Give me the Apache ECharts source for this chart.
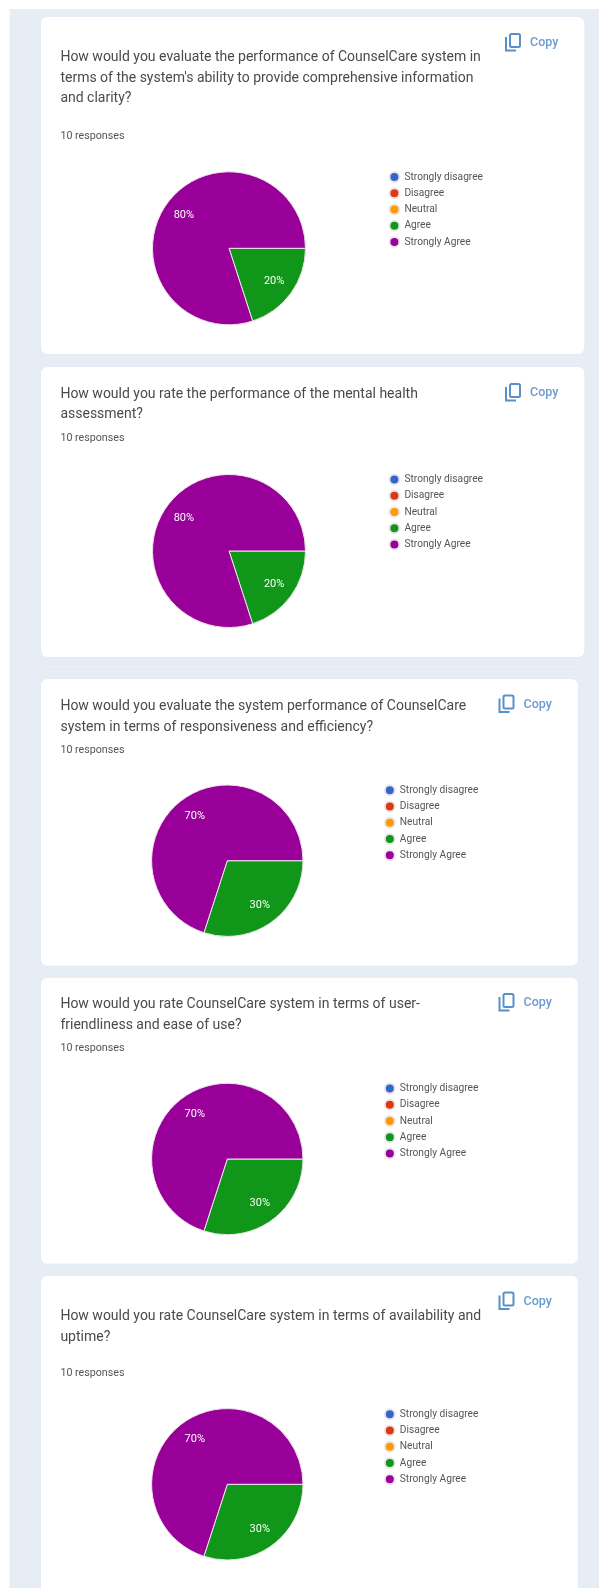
<!DOCTYPE html>
<html>
<head>
<meta charset="utf-8">
<title>CounselCare survey results</title>
<style>html,body{margin:0;padding:0;background:#fff}#chart{width:599px;height:1588px}</style>
<script src="https://cdn.jsdelivr.net/npm/echarts@6/dist/echarts.min.js"></script>
</head>
<body>
<div id="chart"></div>
<script>
// Survey answers
const categories = ['Strongly disagree', 'Disagree', 'Neutral', 'Agree', 'Strongly Agree'];
const questions = [
  'How would you evaluate the performance of CounselCare system in\nterms of the system\'s ability to provide comprehensive information\nand clarity?',
  'How would you rate the performance of the mental health\nassessment?',
  'How would you evaluate the system performance of CounselCare\nsystem in terms of responsiveness and efficiency?',
  'How would you rate CounselCare system in terms of user-\nfriendliness and ease of use?',
  'How would you rate CounselCare system in terms of availability and\nuptime?'
];
const responseLabel = '10 responses';
const copyLabel = 'Copy';
const q1Values = [0, 0, 0, 2, 8];
const q2Values = [0, 0, 0, 2, 8];
const q3Values = [0, 0, 0, 3, 7];
const q4Values = [0, 0, 0, 3, 7];
const q5Values = [0, 0, 0, 3, 7];
const answerSets = [q1Values, q2Values, q3Values, q4Values, q5Values];

// Palette and card geometry
const palette = ['#3366cc', '#dc3912', '#ff9900', '#109618', '#990099'];
const cardLayout = [
  {x0: 41, x1: 584.5, y0: 17, y1: 354, title: 57, resp: 136, cx: 229, cy: 248.3, r: 76.5, legendX: 388.4, legendY: 176.7, copyX: 505, copyY: 34},
  {x0: 41, x1: 584.5, y0: 367, y1: 657, title: 393.7, resp: 438.3, cx: 229, cy: 551, r: 76.5, legendX: 388.4, legendY: 479.3, copyX: 505, copyY: 384},
  {x0: 41, x1: 578, y0: 679, y1: 965.7, title: 706, resp: 750, cx: 227.3, cy: 860.7, r: 75.7, legendX: 383.8, legendY: 790, copyX: 498.5, copyY: 695.5},
  {x0: 41, x1: 578, y0: 977.7, y1: 1263.7, title: 1004.3, resp: 1048.3, cx: 227.3, cy: 1159, r: 75.7, legendX: 383.8, legendY: 1088.3, copyX: 498.5, copyY: 994},
  {x0: 41, x1: 578, y0: 1275.7, y1: 1600, title: 1316, resp: 1373.7, cx: 227.3, cy: 1484.3, r: 75.7, legendX: 383.8, legendY: 1414, copyX: 498.5, copyY: 1292.5}
];
const font = 'Roboto, Arial, sans-serif';

const graphics = [
  {type: 'rect', z: -20, shape: {x: 9.5, y: 9, width: 590, height: 1579}, style: {fill: '#e7edf5'}},
  {type: 'line', z: -19, shape: {x1: 43, y1: 666.7, x2: 575, y2: 666.7}, style: {stroke: '#eef2f8', lineWidth: 1}}
];
const titles = [];
const legends = [];
const series = [];

cardLayout.forEach((c, i) => {
  graphics.push({
    type: 'rect', z: -10,
    shape: {x: c.x0, y: c.y0, width: c.x1 - c.x0, height: c.y1 - c.y0, r: 6},
    style: {fill: '#ffffff', shadowBlur: 1, shadowColor: 'rgba(120,130,150,0.15)'}
  });
  // Copy button: rounded page with a bracket behind it
  graphics.push({
    type: 'rect', z: 1,
    shape: {x: c.copyX + 5, y: c.copyY, width: 10, height: 13, r: 1.5},
    style: {fill: 'none', stroke: '#5a8fc8', lineWidth: 2}
  });
  graphics.push({
    type: 'polyline', z: 1,
    shape: {points: [[c.copyX + 1, c.copyY + 3], [c.copyX + 1, c.copyY + 16.5], [c.copyX + 11, c.copyY + 16.5]]},
    style: {fill: 'none', stroke: '#5a8fc8', lineWidth: 2}
  });
  graphics.push({
    type: 'text', z: 1,
    x: c.copyX + 25, y: c.copyY + 9,
    style: {text: copyLabel, font: '500 12.5px ' + font, fill: '#6a9bd0', verticalAlign: 'middle', align: 'left'}
  });

  titles.push({
    text: questions[i], left: 60.4, top: c.title - 9.75, padding: 0,
    textStyle: {fontFamily: font, fontSize: 14, fontWeight: 'normal', color: '#4a4a4a', lineHeight: 20.5}
  });
  titles.push({
    text: responseLabel, left: 60.4, top: c.resp - 6, padding: 0,
    textStyle: {fontFamily: font, fontSize: 10.7, fontWeight: 'normal', color: '#555555', lineHeight: 12}
  });

  legends.push({
    data: categories, orient: 'vertical', left: c.legendX, top: c.legendY - 5.75, padding: 0,
    icon: 'circle', itemWidth: 10, itemHeight: 12.5, itemGap: 4.25,
    selectedMode: false,
    textStyle: {fontFamily: font, fontSize: 10.2, color: '#555555', lineHeight: 12}
  });

  const values = answerSets[i];
  const total = values.reduce((a, b) => a + b, 0);
  series.push({
    type: 'pie',
    center: [c.cx, c.cy],
    radius: [0, c.r],
    startAngle: 0,
    clockwise: true,
    silent: true,
    animation: false,
    color: palette,
    data: categories.map((name, k) => ({name, value: values[k]})),
    itemStyle: {borderColor: '#ece6ec', borderWidth: 1},
    labelLine: {show: false},
    label: {
      position: 'inside',
      fontFamily: font,
      fontSize: 11,
      color: '#ffffff',
      formatter: p => p.value > 0 ? Math.round(p.percent) + '%' : ''
    },
    // Percentages sit further out than the default mid-radius anchor
    labelLayout: p => {
      const k = p.dataIndex;
      const before = values.slice(0, k).reduce((a, b) => a + b, 0);
      const mid = (before + values[k] / 2) / total * 2 * Math.PI;
      const shift = c.r * 0.19;
      return {dx: Math.cos(mid) * shift, dy: Math.sin(mid) * shift};
    }
  });
});

const chart = echarts.init(document.getElementById('chart'), null, {renderer: 'canvas'});
chart.setOption({
  backgroundColor: '#ffffff',
  animation: false,
  title: titles,
  legend: legends,
  graphic: {elements: graphics},
  series
});
</script>
</body>
</html>
